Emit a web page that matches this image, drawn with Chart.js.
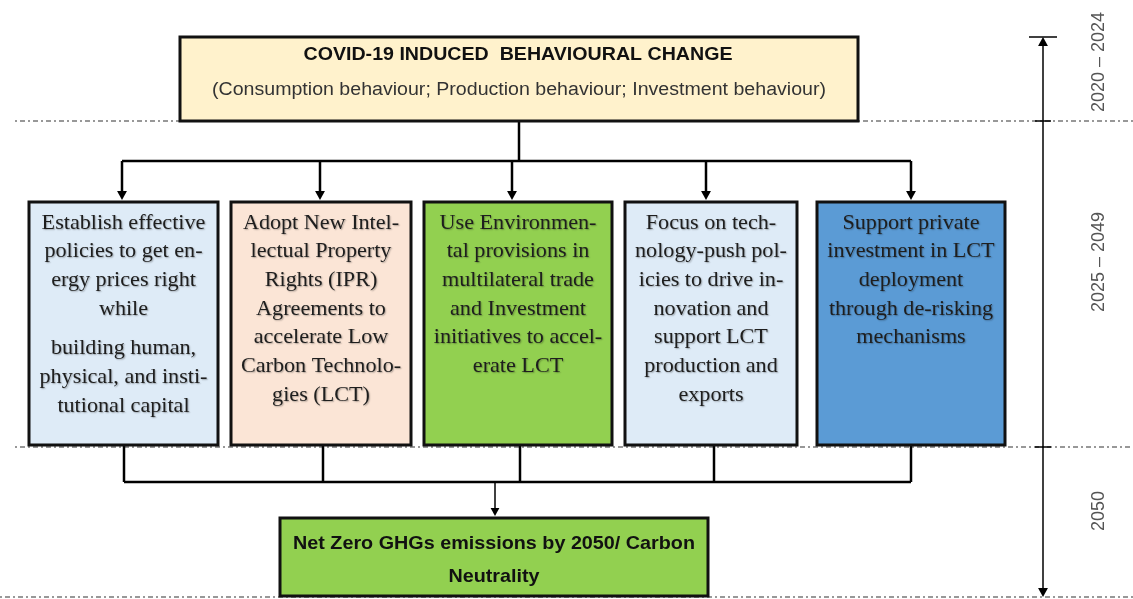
<!DOCTYPE html>
<html>
<head>
<meta charset="utf-8">
<script src="https://cdn.jsdelivr.net/npm/chart.js@4.4.0/dist/chart.umd.min.js"></script>
<style>
  html, body { margin: 0; padding: 0; background: #fff; }
  #wrap { width: 1133px; height: 599px; position: relative; }
</style>
</head>
<body>
<div id="wrap"><canvas id="myChart"></canvas></div>
<script>
// text content of the diagram
const headerTitle = 'COVID-19 INDUCED  BEHAVIOURAL CHANGE';
const headerSub = '(Consumption behaviour; Production behaviour; Investment behaviour)';
const actionLines = [
    ['Establish effective', 'policies to get en-', 'ergy prices right', 'while', '', 'building human,', 'physical, and insti-', 'tutional capital'],
    ['Adopt New Intel-', 'lectual Property', 'Rights (IPR)', 'Agreements to', 'accelerate Low', 'Carbon Technolo-', 'gies (LCT)'],
    ['Use Environmen-', 'tal provisions in', 'multilateral trade', 'and Investment', 'initiatives to accel-', 'erate LCT'],
    ['Focus on tech-', 'nology-push pol-', 'icies to drive in-', 'novation and', 'support LCT', 'production and', 'exports'],
    ['Support private', 'investment in LCT', 'deployment', 'through de-risking', 'mechanisms']
];
const goalLines = ['Net Zero GHGs emissions by 2050/ Carbon', 'Neutrality'];
const periodLabels = ['2020 \u2013 2024', '2025 \u2013 2049', '2050'];

// layout in axis units (x: 0..1133, y: 0..599 top-down)
const layout = {
    header: { x0: 180, x1: 858, y0: 37, y1: 121, fill: '#fff2cc' },
    actions: [
        { x0: 29, x1: 218, fill: '#deebf7', inX: 122, outX: 124 },
        { x0: 231, x1: 411, fill: '#fbe5d6', inX: 320, outX: 323 },
        { x0: 424, x1: 612, fill: '#92d050', inX: 512, outX: 520 },
        { x0: 625, x1: 797, fill: '#deebf7', inX: 706, outX: 714 },
        { x0: 817, x1: 1005, fill: '#5b9bd5', inX: 911, outX: 911 }
    ],
    actionY0: 202, actionY1: 445,
    splitY: 161, joinY: 482, joinArrowX: 495,
    goal: { x0: 280, x1: 708, y0: 518, y1: 596, fill: '#92d050' },
    bands: [121, 447, 597],
    timeX: 1043, timeY0: 37, timeY1: 597,
    periodMid: [62, 262, 511]
};

const diagramPlugin = {
    id: 'diagram',
    afterDatasetsDraw(chart) {
        const ctx = chart.ctx;
        const xs = chart.scales.x, ys = chart.scales.y;
        const X = v => xs.getPixelForValue(v);
        const Y = v => ys.getPixelForValue(v);

        function line(x0, y0, x1, y1, w, color, dash) {
            ctx.save();
            ctx.strokeStyle = color || '#000';
            ctx.lineWidth = w || 2;
            ctx.setLineDash(dash || []);
            ctx.beginPath();
            ctx.moveTo(X(x0), Y(y0));
            ctx.lineTo(X(x1), Y(y1));
            ctx.stroke();
            ctx.restore();
        }
        function arrowHead(x, y, dir, size) {
            const s = size || 7;
            ctx.save();
            ctx.fillStyle = '#000';
            ctx.beginPath();
            ctx.moveTo(X(x), Y(y));
            ctx.lineTo(X(x) - s * 0.55, Y(y) - dir * s);
            ctx.lineTo(X(x) + s * 0.55, Y(y) - dir * s);
            ctx.closePath();
            ctx.fill();
            ctx.restore();
        }
        function box(b, y0, y1, lw) {
            ctx.save();
            ctx.fillStyle = b.fill;
            ctx.fillRect(X(b.x0), Y(y0), X(b.x1) - X(b.x0), Y(y1) - Y(y0));
            ctx.strokeStyle = '#111';
            ctx.lineWidth = lw || 3;
            ctx.strokeRect(X(b.x0), Y(y0), X(b.x1) - X(b.x0), Y(y1) - Y(y0));
            ctx.restore();
        }
        // centred text, stretched horizontally by sx
        function text(t, cx, cy, sx) {
            ctx.save();
            ctx.translate(X(cx), Y(cy));
            ctx.scale(sx || 1, 1);
            ctx.fillText(t, 0, 0);
            ctx.restore();
        }
        // centred text stretched to a target width
        function fitText(t, cx, cy, w) {
            const m = ctx.measureText(t).width;
            text(t, cx, cy, (X(w) - X(0)) / m);
        }

        // dash-dot period separators
        const dd = [2, 3, 5, 3];
        line(15, layout.bands[0], layout.header.x0, layout.bands[0], 1.3, '#777', dd);
        line(layout.header.x1, layout.bands[0], 1133, layout.bands[0], 1.3, '#777', dd);
        line(15, layout.bands[1], 1133, layout.bands[1], 1.3, '#777', dd);
        line(0, layout.bands[2], 1133, layout.bands[2], 1.3, '#777', dd);

        // connectors top
        const h = layout.header;
        const mid = (h.x0 + h.x1) / 2;
        line(mid, h.y1, mid, layout.splitY, 2.5);
        const ins = layout.actions.map(a => a.inX);
        line(Math.min(...ins), layout.splitY, Math.max(...ins), layout.splitY, 2.5);
        ins.forEach(x => {
            line(x, layout.splitY, x, layout.actionY0 - 8, 2.5);
            arrowHead(x, layout.actionY0 - 2, 1, 9);
        });

        // connectors bottom
        const outs = layout.actions.map(a => a.outX);
        outs.forEach(x => line(x, layout.actionY1, x, layout.joinY, 2.5));
        line(Math.min(...outs), layout.joinY, Math.max(...outs), layout.joinY, 2.5);
        line(layout.joinArrowX, layout.joinY, layout.joinArrowX, layout.goal.y0 - 6, 1.5);
        arrowHead(layout.joinArrowX, layout.goal.y0 - 2, 1, 8);

        ctx.textAlign = 'center';
        ctx.textBaseline = 'middle';

        // header box
        box(h, h.y0, h.y1, 3);
        ctx.fillStyle = '#111';
        ctx.font = 'bold 19px "Liberation Sans", Arial, sans-serif';
        fitText(headerTitle, 518, 55, 429);
        ctx.fillStyle = '#333';
        ctx.font = '18px "Liberation Sans", Arial, sans-serif';
        fitText(headerSub, 519, 90, 614);

        // action boxes
        layout.actions.forEach((a, i) => {
            box(a, layout.actionY0, layout.actionY1, 3);
            ctx.save();
            ctx.fillStyle = '#1e1e1e';
            ctx.shadowColor = 'rgba(0,0,0,0.3)';
            ctx.shadowBlur = 1.5;
            ctx.shadowOffsetX = 1;
            ctx.shadowOffsetY = 1;
            ctx.font = '21.5px "Liberation Serif", "Times New Roman", serif';
            let y = 223;
            actionLines[i].forEach(t => {
                if (t === '') { y += 11; return; }
                text(t, (a.x0 + a.x1) / 2, y, 1.03);
                y += 28.7;
            });
            ctx.restore();
        });

        // goal box
        const g = layout.goal;
        box(g, g.y0, g.y1, 3);
        ctx.fillStyle = '#111';
        ctx.font = 'bold 19px "Liberation Sans", Arial, sans-serif';
        const gm = ctx.measureText(goalLines[0]).width;
        const gsx = (X(402) - X(0)) / gm;
        text(goalLines[0], 494, 544, gsx);
        text(goalLines[1], 494, 577, gsx);

        // timeline
        line(layout.timeX, layout.timeY0 + 4, layout.timeX, layout.timeY1 - 4, 1.5);
        arrowHead(layout.timeX, layout.timeY0, -1, 9);
        arrowHead(layout.timeX, layout.timeY1, 1, 9);
        line(layout.timeX - 14, layout.timeY0, layout.timeX + 14, layout.timeY0, 1.5);
        line(layout.timeX - 8, layout.bands[0], layout.timeX + 8, layout.bands[0], 1.5);
        line(layout.timeX - 8, layout.bands[1], layout.timeX + 8, layout.bands[1], 1.5);

        ctx.fillStyle = '#555';
        ctx.font = '18px "Liberation Sans", Arial, sans-serif';
        periodLabels.forEach((t, i) => {
            ctx.save();
            ctx.translate(X(1099), Y(layout.periodMid[i]));
            ctx.rotate(-Math.PI / 2);
            ctx.fillText(t, 0, 0);
            ctx.restore();
        });
    }
};

const ctx = document.getElementById('myChart').getContext('2d');
const myChart = new Chart(ctx, {
    type: 'scatter',
    data: { datasets: [{ data: [] }] },
    options: {
        responsive: true,
        maintainAspectRatio: false,
        animation: false,
        layout: { padding: 0 },
        plugins: { legend: { display: false }, tooltip: { enabled: false } },
        scales: {
            x: { type: 'linear', min: 0, max: 1133, display: false },
            y: { type: 'linear', min: 0, max: 599, reverse: true, display: false }
        }
    },
    plugins: [diagramPlugin]
});
</script>
</body>
</html>
